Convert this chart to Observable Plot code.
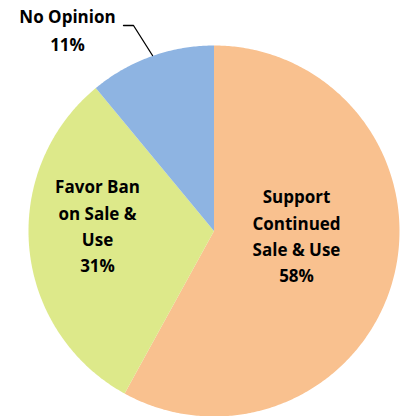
<!DOCTYPE html>
<html><head><meta charset="utf-8">
<script src="https://cdn.jsdelivr.net/npm/d3@7"></script>
<script src="https://cdn.jsdelivr.net/npm/@observablehq/plot@0.6"></script>
<style>body{margin:0;background:#fff}#c{width:405px;height:416px}</style>
</head><body><div id="c"></div>
<script>
const categories = ["Support Continued Sale & Use", "Favor Ban on Sale & Use", "No Opinion"];
const values = [58, 31, 11];
const labelLines = [["Support", "Continued", "Sale & Use", "58%"], ["Favor Ban", "on Sale &", "Use", "31%"], ["No Opinion", "11%"]];
const colors = ["#F9C18F", "#DDE98A", "#8EB4E2"];

// layout (pixels)
const W = 405, H = 416, CX = 213.5, CY = 230.5, R = 185.5;
const labelAnchors = [[296, 197.5], [97, 187.5], [67, 17.5]];
const lineGaps = [26.3, 26.3, 27.5];
const leader = [[123, 25], [133, 25], [152, 55]];

const pie = d3.pie().sort(null).value(d => d)(values);
const polys = [];
pie.forEach((p, i) => {
  const n = Math.max(8, Math.ceil((p.endAngle - p.startAngle) / 0.01));
  polys.push({k: i, x: CX, y: CY});
  for (let j = 0; j <= n; j++) {
    const a = p.startAngle + (p.endAngle - p.startAngle) * j / n;
    polys.push({k: i, x: CX + R * Math.sin(a), y: CY - R * Math.cos(a)});
  }
});
const texts = [];
labelLines.forEach((ls, i) => ls.forEach((t, j) => texts.push({t, x: labelAnchors[i][0], y: labelAnchors[i][1] + j * lineGaps[i]})));
const leaderPts = leader.map(([x, y]) => ({x, y}));

const chart = Plot.plot({
  width: W, height: H,
  margin: 0,
  x: {domain: [0, W], axis: null},
  y: {domain: [H, 0], axis: null},
  color: {domain: [0, 1, 2], range: colors},
  marks: [
    Plot.line(polys, {x: "x", y: "y", z: "k", fill: "k", stroke: null, curve: "linear-closed"}),
    Plot.line(leaderPts, {x: "x", y: "y", stroke: "#000", strokeWidth: 1.3}),
    Plot.text(texts, {x: "x", y: "y", text: "t", fill: "#000", fontSize: 17, fontWeight: "bold", fontFamily: "Open Sans", textAnchor: "middle"})
  ],
  style: {background: "#fff"}
});
document.getElementById("c").append(chart);
</script></body></html>
